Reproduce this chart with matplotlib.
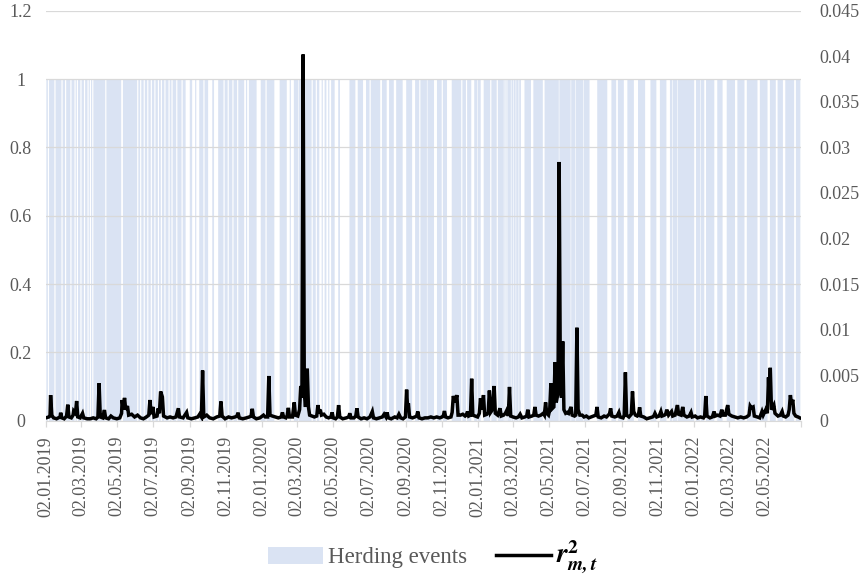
import numpy as np
import pandas as pd
import matplotlib
matplotlib.use('Agg')
import matplotlib.pyplot as plt
import matplotlib.dates as mdates
from matplotlib.patches import Patch
from matplotlib.lines import Line2D

plt.rcParams['font.family'] = ['Liberation Serif', 'DejaVu Serif']
plt.rcParams['mathtext.fontset'] = 'stix'

# ---------------- data ----------------
start_date = '2019-01-02'
n_days = 1276

# non-herding periods (day offset from start, length in days)
gap_start = [3, 14, 26, 32, 41, 48, 52, 58, 64, 70, 74, 78, 100, 127, 154, 159, 165, 171, 177, 183, 189, 194, 200, 207,
             212, 220, 229, 236, 247, 254, 266, 274, 284, 300, 307, 315, 323, 335, 340, 356, 371, 386, 407, 414,
             426, 449, 456, 462, 468, 474, 479, 488, 497, 523, 536, 547, 565, 576, 588, 603, 619, 631,
             644, 656, 669, 678, 702, 710, 719, 729, 735, 751, 762, 774, 777, 779, 786, 790, 794, 799, 803, 820, 840,
             867, 887, 895, 908, 919, 949, 964, 977, 994, 1013, 1032, 1049, 1059, 1067,
             1096, 1106, 1113, 1130, 1144, 1165, 1181, 1203, 1220, 1234, 1246, 1265]
gap_len = [2, 2, 2, 2, 2, 2, 2, 2, 2, 2, 2, 2, 2, 3, 2, 2, 2, 2, 2, 2, 2, 2, 2, 2,
           2, 2, 2, 7, 5, 5, 2, 7, 7, 2, 2, 2, 2, 3, 3, 7, 2, 9, 5, 5,
           1, 2, 2, 4, 3, 3, 3, 6, 16, 4, 5, 2, 3, 4, 4, 6, 5, 2,
           1, 5, 2, 8, 2, 2, 5, 1, 5, 2, 2, 1, 1, 1, 1, 1, 1, 1, 6, 4, 3,
           1, 1, 1, 1, 13, 7, 3, 6, 7, 9, 6, 6, 1, 1,
           3, 1, 3, 5, 7, 4, 4, 4, 4, 3, 4, 3]

# squared market return r^2_{m,t} (day offset, value)
r2_day = [0, 5, 7, 8, 10, 13, 18, 24, 25, 27, 31, 35, 37, 39, 43, 46, 47, 50, 52, 54, 58, 62, 64, 70, 75, 80, 85, 88, 90, 92,
          96, 99, 101, 106, 110, 114, 120, 125, 128, 129, 131, 133, 135, 138, 140, 145, 150, 155, 160, 165, 170, 174, 176,
          178, 181, 183, 188, 190, 192, 194, 197, 199, 205, 210, 215, 220, 224, 226, 232, 238, 240, 246, 252, 257, 260, 263,
          265, 267, 272, 277, 283, 289, 294, 296, 298, 303, 309, 314, 320, 323, 325, 327, 333, 339, 344, 347, 349, 351, 356,
          362, 366, 368, 371, 375, 377, 379, 383, 388, 393, 398, 400, 402, 406, 408, 410, 412, 417, 420, 422, 426, 429, 431,
          433, 435, 437, 439, 442, 444, 446, 450, 454, 458, 460, 462, 464, 466, 470, 474, 478, 482, 484, 486, 490, 493, 495,
          497, 502, 508, 512, 514, 516, 521, 524, 526, 528, 533, 538, 543, 548, 552, 554, 559, 564, 569, 572, 575, 577, 579,
          584, 590, 594, 597, 600, 604, 608, 610, 612, 613, 615, 620, 624, 627, 629, 631, 636, 641, 646, 651, 656, 661, 666,
          670, 672, 674, 676, 680, 685, 687, 689, 692, 695, 697, 701, 705, 709, 711, 713, 715, 718, 720, 722, 726, 730, 733,
          735, 737, 740, 742, 746, 748, 750, 752, 755, 758, 760, 764, 768, 770, 774, 777, 780, 782, 784, 786, 790, 795, 799,
          802, 805, 810, 813, 815, 817, 822, 825, 827, 829, 833, 837, 841, 843, 845, 847, 850, 852, 854, 856, 859, 861, 863,
          866, 868, 870, 872, 874, 876, 879, 882, 884, 888, 890, 894, 896, 898, 900, 903, 907, 910, 914, 918, 922, 926, 930,
          932, 934, 939, 944, 948, 951, 953, 955, 957, 962, 966, 969, 971, 976, 978, 980, 982, 986, 990, 992, 994, 997, 1000,
          1002, 1004, 1006, 1011, 1016, 1021, 1026, 1028, 1030, 1033, 1037, 1040, 1042, 1046, 1048, 1050, 1053, 1058, 1060,
          1064, 1068, 1070, 1074, 1077, 1079, 1084, 1088, 1091, 1093, 1098, 1102, 1107, 1112, 1114, 1116, 1118, 1123, 1127,
          1130, 1132, 1136, 1140, 1143, 1145, 1149, 1153, 1155, 1160, 1165, 1170, 1175, 1180, 1185, 1189, 1191, 1193, 1196,
          1198, 1203, 1207, 1211, 1213, 1218, 1220, 1222, 1223, 1225, 1227, 1231, 1233, 1238, 1242, 1245, 1247, 1251, 1255,
          1257, 1259, 1261, 1263, 1265, 1268, 1272, 1275]
r2_val = [0.0003, 0.0004, 0.0005, 0.0028, 0.0006, 0.0003, 0.0002, 0.0004, 0.00087, 0.0003, 0.0002, 0.0005, 0.00175, 0.0004,
          0.0003, 0.0006, 0.00105, 0.0008, 0.00215, 0.0004, 0.0003, 0.0008, 0.0003, 0.0002, 0.0002, 0.0003, 0.0002, 0.0004,
          0.0041, 0.0004, 0.0003, 0.00116, 0.0003, 0.0002, 0.0005, 0.0003, 0.0002, 0.0003, 0.0008, 0.00226, 0.0012, 0.0025,
          0.0012, 0.0016, 0.0006, 0.0007, 0.0004, 0.0006, 0.0003, 0.0002, 0.0004, 0.0006, 0.00226, 0.0007, 0.0015, 0.0004,
          0.0005, 0.00135, 0.0008, 0.0032, 0.0026, 0.0005, 0.0003, 0.0004, 0.0003, 0.0004, 0.00135, 0.0004, 0.0003, 0.0009,
          0.0003, 0.0002, 0.0003, 0.0004, 0.0007, 0.0004, 0.0055, 0.0004, 0.0006, 0.0003, 0.0002, 0.0004, 0.0005, 0.0021,
          0.0005, 0.0002, 0.0004, 0.0003, 0.0004, 0.0005, 0.00087, 0.0003, 0.0002, 0.0003, 0.0004, 0.0005, 0.0013, 0.0004,
          0.0002, 0.0003, 0.0005, 0.0006, 0.0004, 0.0004, 0.0049, 0.0006, 0.0005, 0.0004, 0.0003, 0.0004, 0.0009, 0.0004,
          0.0003, 0.0005, 0.0014, 0.0004, 0.0004, 0.002, 0.0006, 0.0005, 0.0012, 0.0038, 0.0025, 0.0402, 0.0030, 0.0015,
          0.0057, 0.0015, 0.0006, 0.0005, 0.0004, 0.0005, 0.0017, 0.0008, 0.0012, 0.0006, 0.0007, 0.0004, 0.0003, 0.0004,
          0.0009, 0.0003, 0.0002, 0.0004, 0.0017, 0.0004, 0.0002, 0.0003, 0.0004, 0.0008, 0.0003, 0.0003, 0.0005, 0.00135,
          0.0004, 0.0002, 0.0003, 0.0002, 0.0004, 0.001, 0.0003, 0.0002, 0.0003, 0.0004, 0.0007, 0.0004, 0.0009, 0.0003,
          0.0002, 0.0004, 0.0003, 0.0007, 0.0003, 0.0002, 0.0004, 0.0034, 0.0010, 0.0019, 0.0004, 0.0003, 0.0004, 0.0005,
          0.001, 0.0003, 0.0002, 0.0003, 0.0003, 0.0004, 0.0003, 0.0004, 0.0003, 0.0004, 0.0005, 0.00105, 0.0004, 0.0003,
          0.0004, 0.0009, 0.0027, 0.0020, 0.0028, 0.0006, 0.0006, 0.0007, 0.0005, 0.0006, 0.001, 0.0005, 0.0006, 0.0046,
          0.0006, 0.0005, 0.0004, 0.0008, 0.00245, 0.0012, 0.0028, 0.0006, 0.0007, 0.0009, 0.0033, 0.0009, 0.0012, 0.0038,
          0.0008, 0.0006, 0.00135, 0.0005, 0.0006, 0.0008, 0.0012, 0.0005, 0.0037, 0.0005, 0.0004, 0.0003, 0.0004, 0.0007,
          0.0003, 0.0004, 0.0005, 0.0012, 0.0004, 0.0005, 0.0006, 0.0015, 0.0006, 0.0005, 0.0006, 0.0008, 0.0006, 0.002,
          0.0008, 0.0006, 0.0012, 0.0041, 0.0013, 0.0015, 0.0064, 0.0020, 0.0030, 0.0284, 0.0040, 0.0025, 0.0087, 0.0012,
          0.0008, 0.0009, 0.0008, 0.0015, 0.0006, 0.0005, 0.0006, 0.0102, 0.0012, 0.0006, 0.0006, 0.0004, 0.0005, 0.0003,
          0.0004, 0.0005, 0.0006, 0.0015, 0.0004, 0.0003, 0.0005, 0.0004, 0.0006, 0.0007, 0.00135, 0.0005, 0.0004, 0.0005,
          0.0009, 0.0004, 0.0003, 0.0006, 0.0053, 0.0006, 0.0004, 0.0007, 0.0032, 0.0010, 0.0006, 0.0005, 0.0006, 0.00146,
          0.0005, 0.0004, 0.0002, 0.0003, 0.0004, 0.0005, 0.0008, 0.0004, 0.0005, 0.001, 0.0005, 0.0006, 0.0007, 0.0012,
          0.0006, 0.001, 0.0005, 0.0006, 0.0017, 0.0007, 0.0006, 0.0015, 0.0006, 0.0004, 0.0005, 0.0009, 0.0004, 0.0005,
          0.0003, 0.0004, 0.0003, 0.0005, 0.0027, 0.0005, 0.0003, 0.0004, 0.001, 0.0005, 0.0006, 0.0005, 0.0012, 0.0006,
          0.0006, 0.0017, 0.0007, 0.0005, 0.0004, 0.0003, 0.0004, 0.0003, 0.0004, 0.0006, 0.0016, 0.0014, 0.0015, 0.0005,
          0.0004, 0.0003, 0.001, 0.0006, 0.0013, 0.0008, 0.00475, 0.0025, 0.0058, 0.0012, 0.0017, 0.0008, 0.0005, 0.0006,
          0.001, 0.0005, 0.0004, 0.0006, 0.0012, 0.0028, 0.0018, 0.0023, 0.0008, 0.0005, 0.0004, 0.0003]

left_ticks = [0, 0.2, 0.4, 0.6, 0.8, 1.0, 1.2]
left_labels = ['0', '0.2', '0.4', '0.6', '0.8', '1', '1.2']
right_ticks = [0, 0.005, 0.01, 0.015, 0.02, 0.025, 0.03, 0.035, 0.04, 0.045]
right_labels = ['0', '0.005', '0.01', '0.015', '0.02', '0.025', '0.03', '0.035', '0.04', '0.045']
x_tick_dates = pd.date_range('2019-01-01', '2022-07-01', freq='2MS') + pd.Timedelta(days=1)

# ---------------- build ----------------
start = pd.Timestamp(start_date)
dates = pd.date_range(start, periods=n_days, freq='D')
herding = np.ones(n_days)
for s, l in zip(gap_start, gap_len):
    herding[s:s + l] = 0

xd = mdates.date2num(dates)
r2_x = mdates.date2num(start + pd.to_timedelta(r2_day, unit='D'))

grey = '#595959'
blue = '#dae3f3'

fig = plt.figure(figsize=(8.68, 5.75), dpi=100)
ax = fig.add_axes([0.05265, 0.26852, 0.8702, 0.7127])
ax.fill_between(xd, herding, step='mid', color=blue, lw=0, antialiased=False, zorder=1)
ax.set_ylim(0, 1.2)
ax.set_xlim(mdates.date2num(start) - 0.3, mdates.date2num(start) + 1277)
ax.set_yticks(left_ticks)
ax.set_yticklabels(left_labels)
ax.set_axisbelow(False)
ax.grid(axis='y', color='#d9d9d9', lw=0.9, zorder=2)
for sp in ax.spines.values():
    sp.set_visible(False)
ax.spines['bottom'].set_visible(True)
ax.spines['bottom'].set_color('#d9d9d9')
ax.tick_params(axis='y', length=0, pad=18, labelsize=13, labelcolor=grey)
for lab in ax.get_yticklabels():
    lab.set_horizontalalignment('center')

xt = list(mdates.date2num(x_tick_dates))
xl = [d.strftime('%d.%m.%Y') for d in x_tick_dates]
xl[-1] = ''
ax.set_xticks(xt)
ax.set_xticklabels(xl, rotation=90)
ax.tick_params(axis='x', length=4, width=0.9, color='#d9d9d9', pad=7, labelsize=13, labelcolor=grey)

ax2 = ax.twinx()
ax2.plot(r2_x, r2_val, color='black', lw=2.5, solid_joinstyle='miter', zorder=3)
ax2.set_ylim(0, 0.045)
ax2.set_yticks(right_ticks)
ax2.set_yticklabels(right_labels)
for sp in ax2.spines.values():
    sp.set_visible(False)
ax2.tick_params(axis='y', length=0, pad=13, labelsize=13, labelcolor=grey)

handles = [Patch(facecolor=blue, edgecolor='none'), Line2D([], [], color='black', lw=2.5)]
leg = fig.legend(handles, ['Herding events', r'$\mathbfit{r}_{\mathbfit{m,t}}^{\mathbf{2}}$'], loc='center',
                 bbox_to_anchor=(433 / 868, 1 - 557 / 575), ncol=2, frameon=False,
                 handlelength=2.4, handleheight=0.75, columnspacing=1.3, handletextpad=0.2,
                 fontsize=16.5)
leg.get_texts()[0].set_color(grey)
leg.get_texts()[1].set_color('black')
leg.get_texts()[1].set_fontsize(20)

fig.savefig('out.png', dpi=100)
